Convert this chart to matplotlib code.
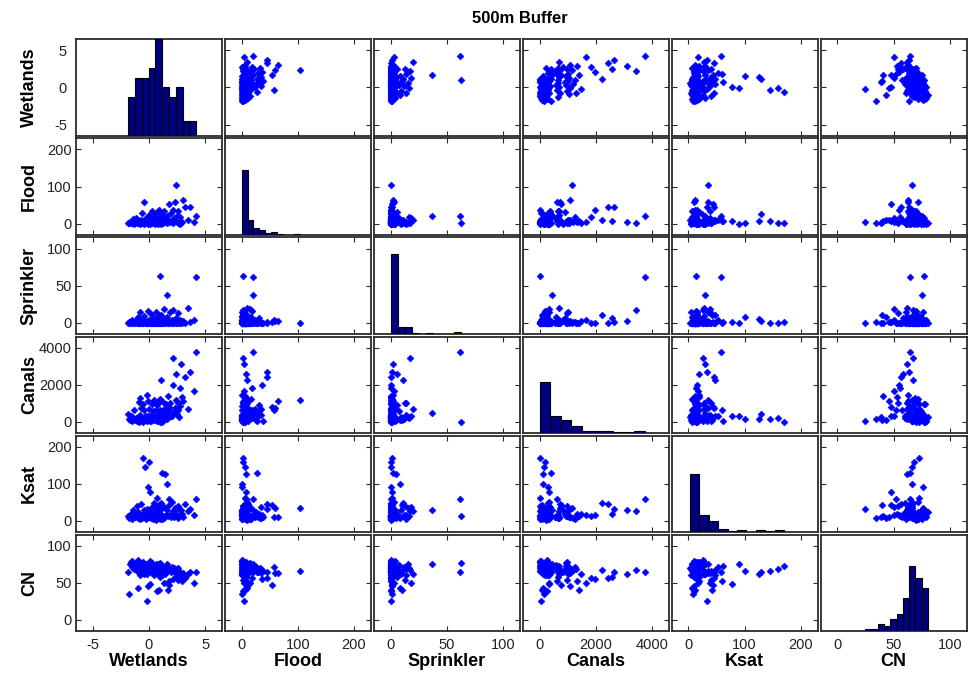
import matplotlib
matplotlib.use('Agg')
import matplotlib.pyplot as plt
import numpy as np

plt.rcParams['font.family'] = ['Liberation Sans', 'DejaVu Sans']
plt.rcParams['axes.unicode_minus'] = False

names = ['Wetlands', 'Flood', 'Sprinkler', 'Canals', 'Ksat', 'CN']

wetlands = [-1.85, -1.78, -1.70, -1.62, -1.55, -1.48, -1.40, -1.30,
            -1.22, -1.15, -1.10, -1.02, -0.95, -0.90, -0.85, -0.80, -0.76, -0.72, -0.68, -0.65,
            -0.60, -0.55, -0.50, -0.45, -0.40, -0.34, -0.28, -0.22, -0.17, -0.12, -0.08, -0.05,
            -0.02, 0.03, 0.08, 0.12, 0.17, 0.21, 0.25, 0.30, 0.34, 0.38, 0.42, 0.47, 0.51, 0.55,
            0.60, 0.63, 0.66, 0.69, 0.72, 0.75, 0.78, 0.81, 0.84, 0.87, 0.90, 0.93, 0.96, 0.99,
            1.02, 1.05, 1.08, 1.11, 1.14, 1.17,
            1.20, 1.26, 1.32, 1.38, 1.44, 1.50, 1.56, 1.62, 1.68, 1.74,
            1.82, 1.88, 1.95, 2.02, 2.10, 2.18, 2.26, 2.34,
            2.40, 2.45, 2.50, 2.56, 2.62, 2.68, 2.74, 2.80, 2.87, 2.94,
            3.05, 3.25, 3.45,
            3.65, 4.05, 4.20]

flood = [2, 0.5, 5, 1, 8, 3, 12, 0,
         6, 15, 2, 9, 1, 2, 4, 0, 7, 3, 11, 5,
         28, 2, 8, 0, 57, 6, 14, 1, 4, 18, 0, 9,
         3, 24, 0, 7, 12, 2, 35, 5, 1, 16, 8, 4, 26, 0,
         10, 3, 19, 6, 2, 31, 0, 9, 13, 4, 38, 1, 7, 2, 17, 5, 9, 0, 6, 6,
         27, 3, 14, 34, 8, 5, 1, 20, 6, 53,
         8, 4, 29, 9, 36, 2, 15, 59,
         104, 7, 21, 3, 33, 3, 0, 18, 4, 5,
         64, 45, 10,
         45, 4, 20]

sprinkler = [0, 1, 0, 2, 0, 4, 0, 1,
             0, 3, 0, 8, 0, 1, 0, 14, 0, 2, 0, 5,
             0, 1, 0, 9, 3, 0, 0, 2, 0, 16, 0, 1,
             0, 4, 0, 1, 0, 12, 0, 2, 0, 7, 0, 1, 0, 3,
             0, 15, 0, 1, 0, 6, 0, 2, 0, 10, 0, 3, 0, 63, 1, 0, 11, 0, 4, 0,
             2, 0, 18, 0, 5, 0, 8, 37, 0, 1,
             0, 14, 0, 3, 0, 17, 0, 2,
             0, 6, 0, 13, 1, 0, 4, 0, 2, 0,
             2, 0, 20,
             1, 3, 62]

canals = [420, 150, 80, 300, 240, 40, 220, 650,
          120, 180, 30, 110, 260, 1050, 10, 350, 1300, 180, 720, 90,
          60, 0, 980, 250, 620, 140, 310, 1470, 60, 200, 310, 1100,
          200, 700, 20, 320, 40, 160, 360, 950, 70, 600, 290, 1180, 110, 150,
          230, 240, 660, 30, 270, 920, 170, 1020, 340, 100, 20, 90, 640, 10,
          1250, 270, 2230, 350, 190, 0,
          400, 1060, 330, 690, 130, 940, 130, 450, 1400, 780,
          620, 1010, 290, 330, 1960, 3430, 550, 730,
          1160, 2580, 420, 990, 660, 230, 840, 1830, 3110, 1350,
          1100, 2440, 700,
          2660, 1650, 3740]

ksat = [12, 8, 15, 18, 6, 10, 30, 18,
        9, 14, 40, 7, 25, 11, 16, 5, 11, 13, 45, 8,
        17, 170, 12, 28, 10, 145, 6, 19, 33, 14, 90, 9,
        160, 11, 26, 78, 7, 15, 38, 13, 4, 10, 48, 8, 24, 16,
        2.5, 35, 12, 62, 9, 18, 14, 27, 7, 42, 11, 25, 9, 13, 6, 31, 47, 16, 10, 6,
        130, 14, 38, 8, 125, 17, 100, 29, 12, 44,
        60, 15, 10, 52, 15, 26, 9, 34,
        35, 18, 12, 40, 7, 13, 30, 14, 30, 19,
        11, 46, 27,
        33, 17, 58]

cn = [64, 34.5, 76, 78, 72, 79, 75, 68,
      73, 77, 66, 43.5, 80.5, 70, 78, 61, 69, 76, 65, 71,
      67, 73, 78, 62, 72, 66, 75, 62.5, 25, 70, 76, 46,
      68, 73, 79, 48, 66, 71, 63, 77, 69, 74, 60, 67, 72, 65,
      70, 76, 64, 73, 39, 68, 71, 62, 75, 40, 66, 76, 57.5, 77, 72, 63, 67, 74, 60, 70,
      65, 71, 50, 68, 62, 73, 66, 75, 41, 47.5,
      52, 69, 64, 72, 55, 67, 70, 63,
      66, 58, 68, 54, 70, 61, 65, 56, 62, 53,
      63, 57, 62,
      64, 50, 65]

data = [np.array(v, dtype=float) for v in (wetlands, flood, sprinkler, canals, ksat, cn)]

# axis ranges and ticks for each variable
limits = [(-6.5, 6.5), (-30, 230), (-15, 115), (-600, 4600), (-30, 230), (-15, 115)]
ticks = [[-5, 0, 5], [0, 100, 200], [0, 50, 100], [0, 2000, 4000], [0, 100, 200], [0, 50, 100]]
# height of the tallest histogram bar relative to its panel
hist_fill = [1.0, 0.67, 0.83, 0.53, 0.60, 0.67]

n = len(names)
fig, axes = plt.subplots(n, n, figsize=(9.68, 6.81), dpi=100)
fig.subplots_adjust(left=0.0785, right=0.9985, top=0.9423, bottom=0.0734,
                    wspace=0.02, hspace=0.028)

frame = '#2b2b2b'
for i in range(n):
    for j in range(n):
        ax = axes[i, j]
        ax.set_xlim(limits[j])
        ax.set_ylim(limits[i])
        ax.set_xticks(ticks[j])
        ax.set_yticks(ticks[i])
        for s in ax.spines.values():
            s.set_color(frame)
            s.set_linewidth(1.3)
        ax.tick_params(direction='in', top=True, right=True, length=3.5,
                       width=0.8, color=frame, labelsize=10.5, labelcolor='#222222',
                       pad=3)
        if i == j:
            ax.tick_params(length=0, pad=6.5)
            hax = ax.twinx()
            counts, edges, _ = hax.hist(data[i], bins=10, color='#000080',
                                        edgecolor='black', linewidth=0.8)
            hax.set_ylim(0, counts.max() / hist_fill[i])
            hax.set_yticks([])
            for s in hax.spines.values():
                s.set_visible(False)
        else:
            ax.plot(data[j], data[i], 'D', color='#0000ff', ms=3.5, mew=0.4)
        if j != 0:
            ax.set_yticklabels([])
        if i != n - 1:
            ax.set_xticklabels([])
        if i == n - 1:
            ax.tick_params(axis='x', pad=5 if i != j else 5)
            ax.set_xlabel(names[j], fontsize=13, fontweight='bold')
            ax.xaxis.set_label_coords(0.5, -0.228)
            ax.xaxis.label.set_va('top')
        if j == 0:
            ax.set_ylabel(names[i], fontsize=13, fontweight='bold')
            ax.yaxis.set_label_coords(-0.32, 0.5)
            ax.yaxis.label.set_va('center')

fig.text(0.537, 0.973, '500m Buffer', ha='center', va='center',
         fontsize=12, fontweight='bold')

fig.savefig('out.png', dpi=100)
